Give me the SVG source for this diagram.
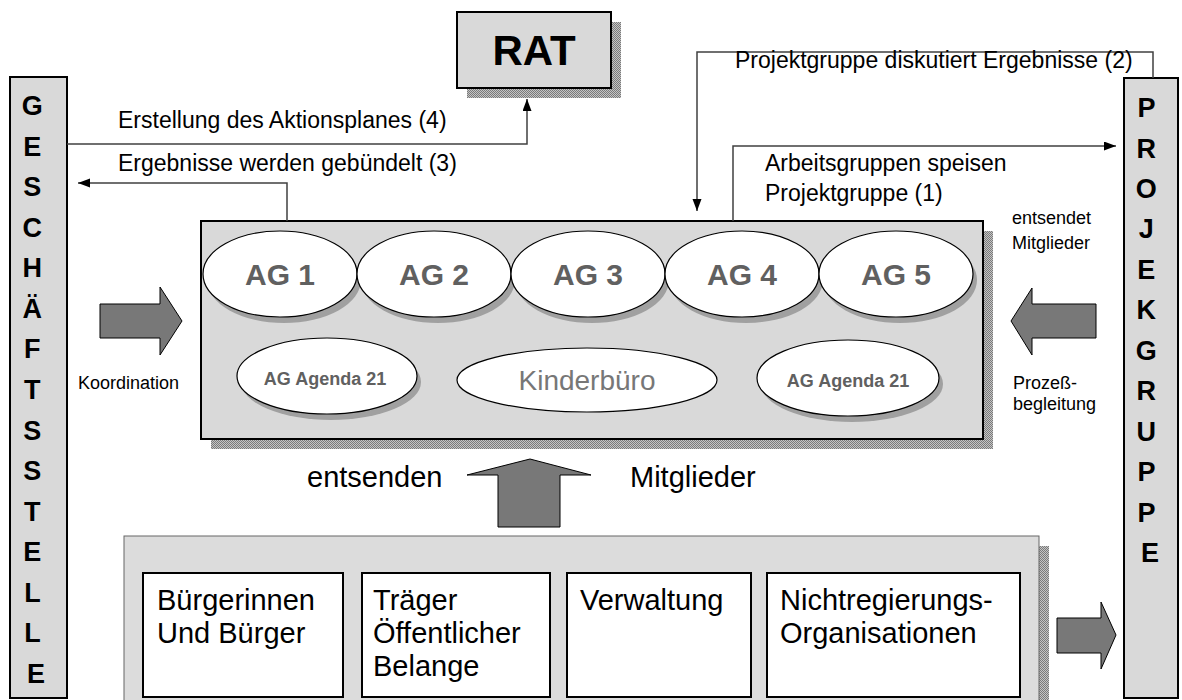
<svg xmlns="http://www.w3.org/2000/svg" width="1182" height="700" viewBox="0 0 1182 700">
  <defs>
    <!-- dithered drop-shadow fill -->
    <pattern id="dither" width="2" height="2" patternUnits="userSpaceOnUse">
      <rect width="2" height="2" fill="#c4c4c4"/>
      <rect width="1" height="1" fill="#7a7a7a"/>
      <rect x="1" y="1" width="1" height="1" fill="#7a7a7a"/>
    </pattern>
    <marker id="head" markerWidth="13" markerHeight="10" refX="12" refY="4.5" orient="auto" markerUnits="userSpaceOnUse">
      <path d="M0,0 L12,4.5 L0,9 z" fill="#000"/>
    </marker>
    <style>
      .panel { fill: #d9d9d9; stroke: #000; stroke-width: 2; }
      .shadow { fill: url(#dither); }
      .oval { fill: #fff; stroke: #000; stroke-width: 1.2; }
      .ovalShadow { fill: #a0a0a0; }
      .card { fill: #fff; stroke: #000; stroke-width: 2; }
      .block { fill: #787878; stroke: #000; stroke-width: 1; }
      .wire { fill: none; stroke: #404040; stroke-width: 1.5; marker-end: url(#head); }
      .t { font-family: "Liberation Sans", Arial, sans-serif; fill: #000; }
      .label { font-size: 23px; }
      .small { font-size: 18px; }
      .big { font-size: 29px; }
      .vert { font-size: 27px; font-weight: bold; text-anchor: middle; }
      .ag { font-size: 30px; font-weight: bold; fill: #606060; text-anchor: middle; }
      .agenda { font-size: 18px; font-weight: bold; fill: #606060; text-anchor: middle; }
      .soft { font-size: 28px; fill: #777; text-anchor: middle; }
    </style>
  </defs>

  <rect width="1182" height="700" fill="#fff"/>

  <!-- Rat -->
  <g id="rat">
    <rect class="shadow" x="467" y="22" width="154" height="76"/>
    <rect class="panel" x="457" y="12" width="154" height="76"/>
    <text class="t" x="534" y="65" font-size="42" font-weight="bold" text-anchor="middle">RAT</text>
  </g>

  <!-- Geschäftsstelle (left column) -->
  <g id="geschaeftsstelle">
    <rect class="panel" x="10" y="77" width="57" height="621"/>
    <text class="t vert">
      <tspan x="36" y="115">G</tspan>
      <tspan x="36" y="155.6">E</tspan>
      <tspan x="36" y="196.1">S</tspan>
      <tspan x="36" y="236.7">C</tspan>
      <tspan x="36" y="277.3">H</tspan>
      <tspan x="36" y="317.9">Ä</tspan>
      <tspan x="36" y="358.4">F</tspan>
      <tspan x="36" y="399">T</tspan>
      <tspan x="36" y="439.6">S</tspan>
      <tspan x="36" y="480.1">S</tspan>
      <tspan x="36" y="520.7">T</tspan>
      <tspan x="36" y="561.3">E</tspan>
      <tspan x="36" y="601.9">L</tspan>
      <tspan x="36" y="642.4">L</tspan>
      <tspan x="36" y="683">E</tspan>
    </text>
  </g>

  <!-- Projektgruppe (right column) -->
  <g id="projektgruppe">
    <rect class="panel" x="1124" y="78" width="54" height="620"/>
    <text class="t vert">
      <tspan x="1150" y="117">P</tspan>
      <tspan x="1150" y="157.5">R</tspan>
      <tspan x="1150" y="197.9">O</tspan>
      <tspan x="1150" y="238.4">J</tspan>
      <tspan x="1150" y="278.8">E</tspan>
      <tspan x="1150" y="319.3">K</tspan>
      <tspan x="1150" y="359.7">G</tspan>
      <tspan x="1150" y="400.2">R</tspan>
      <tspan x="1150" y="440.6">U</tspan>
      <tspan x="1150" y="481.1">P</tspan>
      <tspan x="1150" y="521.5">P</tspan>
      <tspan x="1150" y="562">E</tspan>
    </text>
  </g>

  <!-- Arbeitsgruppen panel -->
  <g id="arbeitsgruppen">
    <rect class="shadow" x="211" y="231" width="782" height="218"/>
    <rect class="panel" x="201" y="221" width="782" height="218"/>
  </g>

  <g id="ag1">
    <ellipse class="ovalShadow" cx="284" cy="280" rx="77" ry="43"/>
    <ellipse class="oval" cx="280" cy="274" rx="77" ry="43"/>
    <text class="t ag" x="280" y="285">AG 1</text>
  </g>
  <g id="ag2">
    <ellipse class="ovalShadow" cx="438" cy="280" rx="77" ry="43"/>
    <ellipse class="oval" cx="434" cy="274" rx="77" ry="43"/>
    <text class="t ag" x="434" y="285">AG 2</text>
  </g>
  <g id="ag3">
    <ellipse class="ovalShadow" cx="592" cy="280" rx="77" ry="43"/>
    <ellipse class="oval" cx="588" cy="274" rx="77" ry="43"/>
    <text class="t ag" x="588" y="285">AG 3</text>
  </g>
  <g id="ag4">
    <ellipse class="ovalShadow" cx="746" cy="280" rx="77" ry="43"/>
    <ellipse class="oval" cx="742" cy="274" rx="77" ry="43"/>
    <text class="t ag" x="742" y="285">AG 4</text>
  </g>
  <g id="ag5">
    <ellipse class="ovalShadow" cx="900" cy="280" rx="77" ry="43"/>
    <ellipse class="oval" cx="896" cy="274" rx="77" ry="43"/>
    <text class="t ag" x="896" y="285">AG 5</text>
  </g>

  <g id="agenda-left">
    <ellipse class="ovalShadow" cx="331" cy="382" rx="90" ry="38"/>
    <ellipse class="oval" cx="327" cy="376" rx="90" ry="38"/>
    <text class="t agenda" x="325" y="385">AG Agenda 21</text>
  </g>
  <g id="kinderbuero">
    <ellipse class="oval" cx="587" cy="380" rx="130" ry="32"/>
    <text class="t soft" x="587" y="390">Kinderbüro</text>
  </g>
  <g id="agenda-right">
    <ellipse class="ovalShadow" cx="852" cy="384" rx="91" ry="38"/>
    <ellipse class="oval" cx="848" cy="378" rx="91" ry="38"/>
    <text class="t agenda" x="848" y="387">AG Agenda 21</text>
  </g>

  <!-- Membership base -->
  <g id="basis">
    <rect class="shadow" x="134" y="546" width="915" height="170"/>
    <rect x="124" y="536" width="915" height="170" fill="#dcdcdc" stroke="#666" stroke-width="1"/>
  </g>
  <g id="buerger">
    <rect class="card" x="143" y="573" width="200" height="124"/>
    <text class="t big"><tspan x="157" y="610">Bürgerinnen</tspan><tspan x="157" y="643">Und Bürger</tspan></text>
  </g>
  <g id="traeger">
    <rect class="card" x="362" y="573" width="188" height="124"/>
    <text class="t big"><tspan x="373" y="610">Träger</tspan><tspan x="373" y="643">Öffentlicher</tspan><tspan x="373" y="676">Belange</tspan></text>
  </g>
  <g id="verwaltung">
    <rect class="card" x="567" y="573" width="184" height="124"/>
    <text class="t big" x="580" y="610">Verwaltung</text>
  </g>
  <g id="ngo">
    <rect class="card" x="767" y="573" width="253" height="124"/>
    <text class="t big"><tspan x="780" y="610">Nichtregierungs-</tspan><tspan x="780" y="643">Organisationen</tspan></text>
  </g>

  <!-- Connectors -->
  <g id="connectors">
    <polyline class="wire" points="67,144 527,144 527,99"/>
    <polyline class="wire" points="287,221 287,183 78,183"/>
    <polyline class="wire" points="1153,78 1153,52 697,52 697,211"/>
    <polyline class="wire" points="733,221 733,146 1116,146"/>

    <polygon class="block" points="100,304 160,304 160,287 182,321 160,355 160,338 100,338"/>
    <polygon class="block" points="1096,304 1032,304 1032,288 1011,321 1032,355 1032,338 1096,338"/>
    <polygon class="block" points="498,527 498,475 467,475 530,459 591,475 560,475 560,527"/>
    <polygon class="block" points="1057,618 1101,618 1101,602 1116,635 1101,669 1101,653 1057,653"/>
  </g>

  <!-- Connector labels -->
  <g id="labels">
    <text class="t label" x="118" y="128">Erstellung des Aktionsplanes (4)</text>
    <text class="t label" x="118" y="171">Ergebnisse werden gebündelt (3)</text>
    <text class="t label" x="735" y="68">Projektgruppe diskutiert Ergebnisse (2)</text>
    <text class="t label"><tspan x="765" y="171">Arbeitsgruppen speisen</tspan><tspan x="765" y="201">Projektgruppe (1)</tspan></text>
    <text class="t small"><tspan x="1012" y="224">entsendet</tspan><tspan x="1012" y="249">Mitglieder</tspan></text>
    <text class="t small" x="78" y="389">Koordination</text>
    <text class="t small"><tspan x="1013" y="389">Prozeß-</tspan><tspan x="1013" y="410">begleitung</tspan></text>
    <text class="t big" x="307" y="487">entsenden</text>
    <text class="t big" x="630" y="487">Mitglieder</text>
  </g>
</svg>
